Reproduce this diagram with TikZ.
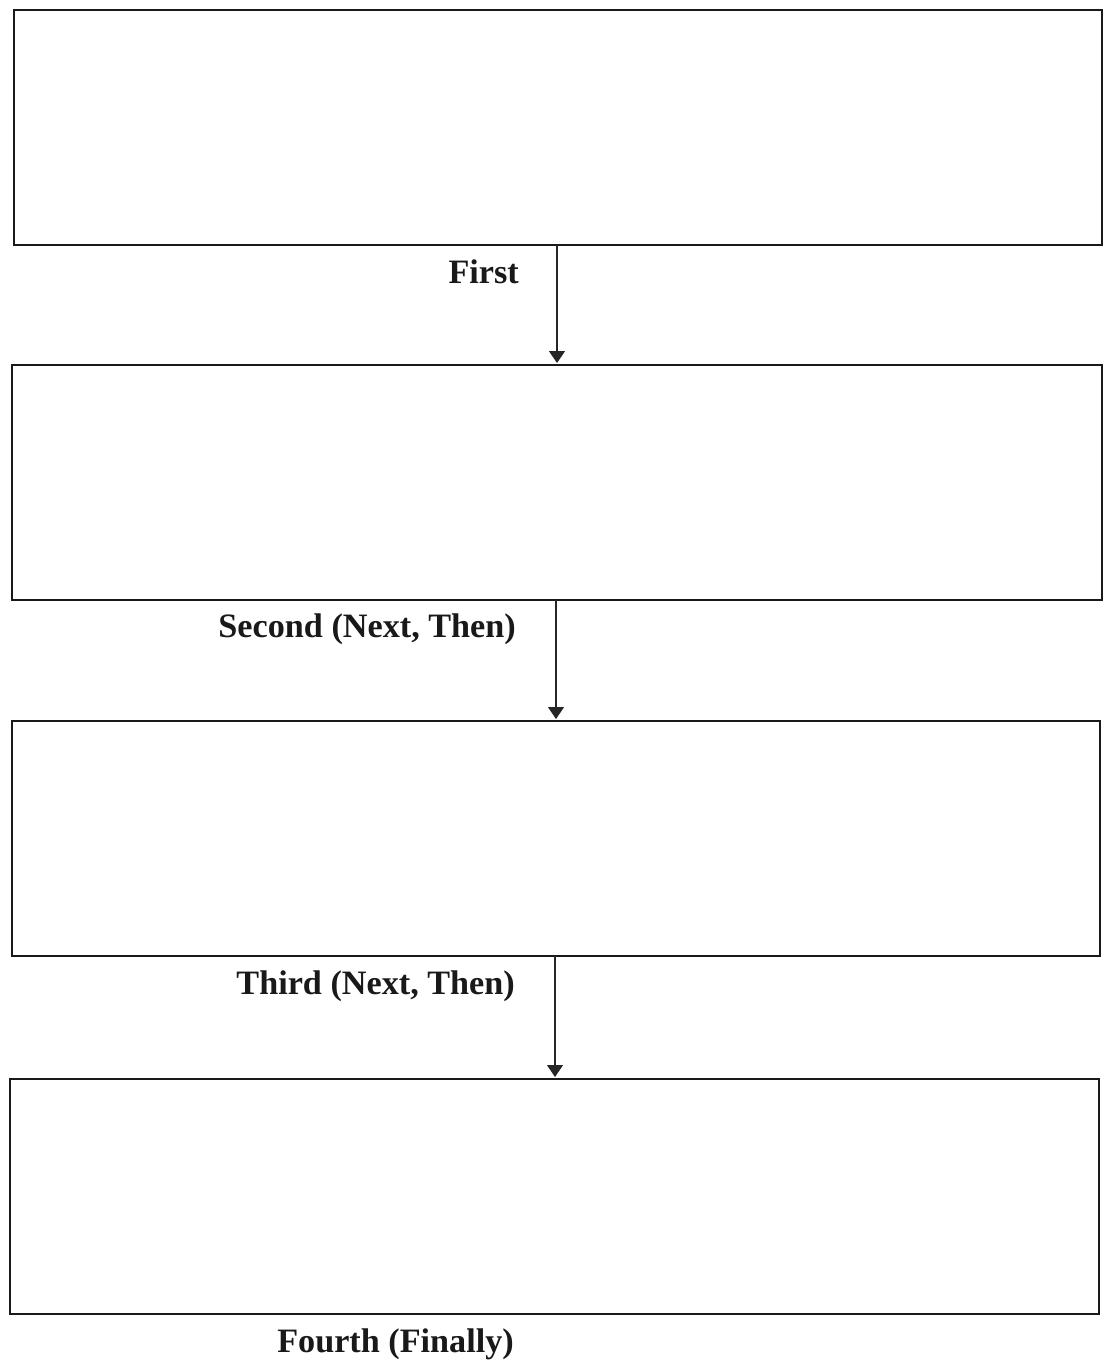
\documentclass[tikz,border=0pt]{standalone}
\usepackage{fontspec}
\setmainfont{Liberation Serif}
\usetikzlibrary{arrows.meta}
\begin{document}
\begin{tikzpicture}[x=1pt,y=-1pt,
  panel/.style={draw=black!90,line width=2.8pt},
  flow/.style={draw=black!85,line width=1.3pt,-{Triangle[width=16pt,length=12pt]}},
  lbl/.style={font=\bfseries\fontsize{34.2}{40}\selectfont,anchor=base east,inner sep=0pt,text=black!90}]
\fill[white] (0,0) rectangle (1110,1361);
\useasboundingbox (0,0) rectangle (1110,1361);
\draw[panel] (14,10) rectangle (1102,245);
\draw[panel] (12,365) rectangle (1102,600);
\draw[panel] (12,721) rectangle (1100,956);
\draw[panel] (10,1079) rectangle (1099,1314);
\coordinate (a1) at (557,245); \coordinate (a2) at (557,363);
\coordinate (b1) at (556,600); \coordinate (b2) at (556,719);
\coordinate (c1) at (555,956); \coordinate (c2) at (555,1077);
\draw[flow] (a1) -- (a2);
\draw[flow] (b1) -- (b2);
\draw[flow] (c1) -- (c2);
\node[lbl] (l1) at (519,283) {First};
\node[lbl] (l2) at (516,637) {Second (Next, Then)};
\node[lbl] (l3) at (515,994) {Third (Next, Then)};
\node[lbl] (l4) at (514,1352) {Fourth (Finally)};
\end{tikzpicture}
\end{document}
